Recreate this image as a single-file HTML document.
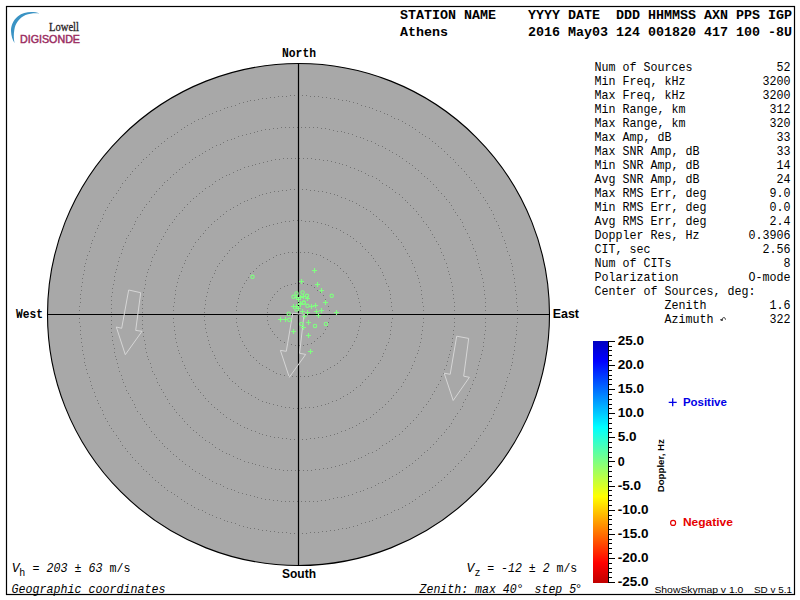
<!DOCTYPE html><html><head><meta charset="utf-8"><style>html,body{margin:0;padding:0;background:#fff;width:800px;height:600px;overflow:hidden}svg{display:block}text{white-space:pre}</style></head><body>
<svg width="800" height="600" viewBox="0 0 800 600">
<rect x="0" y="0" width="800" height="600" fill="#fff"/>
<rect x="6.5" y="6.5" width="788" height="588" fill="none" stroke="#000" stroke-width="1.2"/>
<defs><linearGradient id="jet" x1="0" y1="0" x2="0" y2="1"><stop offset="0" stop-color="#0000c0"/><stop offset="0.083" stop-color="#0000ff"/><stop offset="0.357" stop-color="#00ffff"/><stop offset="0.5" stop-color="#80ff80"/><stop offset="0.643" stop-color="#ffff00"/><stop offset="0.917" stop-color="#ff0000"/><stop offset="1" stop-color="#c00000"/></linearGradient></defs>
<circle cx="298.5" cy="314.5" r="251" fill="#a8a8a8" stroke="#000" stroke-width="1.1"/>
<path d="M329 314.5h1M329 318.5h1M328 322.5h1M327 326.5h1M325 329.5h1M323 333.5h1M320 336.5h1M317 338.5h1M314 341.5h1M311 343.5h1M307 344.5h1M303 345.5h1M299 345.5h1M295 345.5h1M291 344.5h1M287 343.5h1M284 342.5h1M280 340.5h1M277 337.5h1M274 334.5h1M272 331.5h1M270 328.5h1M268 324.5h1M267 320.5h1M267 316.5h1M267 312.5h1M267 308.5h1M268 304.5h1M270 300.5h1M272 297.5h1M274 294.5h1M277 291.5h1M280 288.5h1M284 286.5h1M287 285.5h1M291 284.5h1M295 283.5h1M299 283.5h1M303 283.5h1M307 284.5h1M311 285.5h1M314 287.5h1M317 290.5h1M320 292.5h1M323 295.5h1M325 299.5h1M327 302.5h1M328 306.5h1M329 310.5h1M361 314.5h1M360 318.5h1M360 322.5h1M359 326.5h1M358 330.5h1M357 334.5h1M356 337.5h1M354 341.5h1M352 345.5h1M350 348.5h1M348 351.5h1M346 355.5h1M343 357.5h1M340 360.5h1M337 363.5h1M334 365.5h1M330 367.5h1M327 369.5h1M323 371.5h1M320 373.5h1M316 374.5h1M312 375.5h1M308 376.5h1M304 376.5h1M300 376.5h1M296 376.5h1M292 376.5h1M288 376.5h1M284 375.5h1M280 374.5h1M276 373.5h1M273 371.5h1M269 369.5h1M266 367.5h1M262 365.5h1M259 363.5h1M256 360.5h1M253 357.5h1M250 355.5h1M248 351.5h1M246 348.5h1M244 345.5h1M242 341.5h1M240 337.5h1M239 334.5h1M238 330.5h1M237 326.5h1M236 322.5h1M236 318.5h1M236 314.5h1M236 310.5h1M236 306.5h1M237 302.5h1M238 298.5h1M239 294.5h1M240 291.5h1M242 287.5h1M244 283.5h1M246 280.5h1M248 277.5h1M250 273.5h1M253 271.5h1M256 268.5h1M259 265.5h1M262 263.5h1M266 261.5h1M269 259.5h1M273 257.5h1M276 255.5h1M280 254.5h1M284 253.5h1M288 252.5h1M292 252.5h1M296 252.5h1M300 252.5h1M304 252.5h1M308 252.5h1M312 253.5h1M316 254.5h1M320 255.5h1M323 257.5h1M327 259.5h1M330 261.5h1M334 263.5h1M337 265.5h1M340 268.5h1M343 271.5h1M346 273.5h1M348 277.5h1M350 280.5h1M352 283.5h1M354 287.5h1M356 291.5h1M357 294.5h1M358 298.5h1M359 302.5h1M360 306.5h1M360 310.5h1M392 314.5h1M392 318.5h1M391 322.5h1M391 326.5h1M390 330.5h1M390 334.5h1M389 338.5h1M388 342.5h1M386 345.5h1M385 349.5h1M383 353.5h1M382 356.5h1M380 360.5h1M378 363.5h1M375 367.5h1M373 370.5h1M371 373.5h1M368 376.5h1M365 379.5h1M362 382.5h1M360 385.5h1M356 387.5h1M353 390.5h1M350 392.5h1M347 394.5h1M343 396.5h1M340 398.5h1M336 400.5h1M332 401.5h1M328 403.5h1M325 404.5h1M321 405.5h1M317 406.5h1M313 407.5h1M309 407.5h1M305 407.5h1M301 408.5h1M297 408.5h1M293 408.5h1M289 407.5h1M285 407.5h1M281 406.5h1M277 405.5h1M273 404.5h1M269 403.5h1M266 402.5h1M262 401.5h1M258 399.5h1M255 397.5h1M251 395.5h1M248 393.5h1M244 391.5h1M241 389.5h1M238 386.5h1M235 383.5h1M232 381.5h1M229 378.5h1M227 375.5h1M224 372.5h1M222 368.5h1M219 365.5h1M217 362.5h1M215 358.5h1M214 355.5h1M212 351.5h1M210 347.5h1M209 344.5h1M208 340.5h1M207 336.5h1M206 332.5h1M205 328.5h1M205 324.5h1M204 320.5h1M204 316.5h1M204 312.5h1M204 308.5h1M205 304.5h1M205 300.5h1M206 296.5h1M207 292.5h1M208 288.5h1M209 284.5h1M210 281.5h1M212 277.5h1M214 273.5h1M215 270.5h1M217 266.5h1M219 263.5h1M222 260.5h1M224 256.5h1M227 253.5h1M229 250.5h1M232 247.5h1M235 245.5h1M238 242.5h1M241 239.5h1M244 237.5h1M248 235.5h1M251 233.5h1M255 231.5h1M258 229.5h1M262 227.5h1M266 226.5h1M269 225.5h1M273 224.5h1M277 223.5h1M281 222.5h1M285 221.5h1M289 221.5h1M293 220.5h1M297 220.5h1M301 220.5h1M305 221.5h1M309 221.5h1M313 221.5h1M317 222.5h1M321 223.5h1M325 224.5h1M328 225.5h1M332 227.5h1M336 228.5h1M340 230.5h1M343 232.5h1M347 234.5h1M350 236.5h1M353 238.5h1M356 241.5h1M360 243.5h1M362 246.5h1M365 249.5h1M368 252.5h1M371 255.5h1M373 258.5h1M375 261.5h1M378 265.5h1M380 268.5h1M382 272.5h1M383 275.5h1M385 279.5h1M386 283.5h1M388 286.5h1M389 290.5h1M390 294.5h1M390 298.5h1M391 302.5h1M391 306.5h1M392 310.5h1M423 314.5h1M423 318.5h1M423 322.5h1M422 326.5h1M422 330.5h1M421 334.5h1M421 338.5h1M420 342.5h1M419 346.5h1M418 350.5h1M417 353.5h1M415 357.5h1M414 361.5h1M412 365.5h1M411 368.5h1M409 372.5h1M407 375.5h1M405 379.5h1M403 382.5h1M401 386.5h1M398 389.5h1M396 392.5h1M393 395.5h1M391 398.5h1M388 401.5h1M385 404.5h1M382 407.5h1M379 409.5h1M376 412.5h1M373 414.5h1M370 417.5h1M366 419.5h1M363 421.5h1M359 423.5h1M356 425.5h1M352 427.5h1M349 428.5h1M345 430.5h1M341 431.5h1M337 433.5h1M334 434.5h1M330 435.5h1M326 436.5h1M322 437.5h1M318 437.5h1M314 438.5h1M310 438.5h1M306 439.5h1M302 439.5h1M298 439.5h1M294 439.5h1M290 439.5h1M286 438.5h1M282 438.5h1M278 437.5h1M274 437.5h1M270 436.5h1M266 435.5h1M262 434.5h1M259 433.5h1M255 431.5h1M251 430.5h1M247 428.5h1M244 427.5h1M240 425.5h1M237 423.5h1M233 421.5h1M230 419.5h1M226 417.5h1M223 414.5h1M220 412.5h1M217 409.5h1M214 407.5h1M211 404.5h1M208 401.5h1M205 398.5h1M203 395.5h1M200 392.5h1M198 389.5h1M195 386.5h1M193 382.5h1M191 379.5h1M189 375.5h1M187 372.5h1M185 368.5h1M184 365.5h1M182 361.5h1M181 357.5h1M179 353.5h1M178 350.5h1M177 346.5h1M176 342.5h1M175 338.5h1M175 334.5h1M174 330.5h1M174 326.5h1M173 322.5h1M173 318.5h1M173 314.5h1M173 310.5h1M173 306.5h1M174 302.5h1M174 298.5h1M175 294.5h1M175 290.5h1M176 286.5h1M177 282.5h1M178 278.5h1M179 275.5h1M181 271.5h1M182 267.5h1M184 263.5h1M185 260.5h1M187 256.5h1M189 253.5h1M191 249.5h1M193 246.5h1M195 242.5h1M198 239.5h1M200 236.5h1M203 233.5h1M205 230.5h1M208 227.5h1M211 224.5h1M214 221.5h1M217 219.5h1M220 216.5h1M223 214.5h1M226 211.5h1M230 209.5h1M233 207.5h1M237 205.5h1M240 203.5h1M244 201.5h1M247 200.5h1M251 198.5h1M255 197.5h1M259 195.5h1M262 194.5h1M266 193.5h1M270 192.5h1M274 191.5h1M278 191.5h1M282 190.5h1M286 190.5h1M290 189.5h1M294 189.5h1M298 189.5h1M302 189.5h1M306 189.5h1M310 190.5h1M314 190.5h1M318 191.5h1M322 191.5h1M326 192.5h1M330 193.5h1M334 194.5h1M337 195.5h1M341 197.5h1M345 198.5h1M349 200.5h1M352 201.5h1M356 203.5h1M359 205.5h1M363 207.5h1M366 209.5h1M370 211.5h1M373 214.5h1M376 216.5h1M379 219.5h1M382 221.5h1M385 224.5h1M388 227.5h1M391 230.5h1M393 233.5h1M396 236.5h1M398 239.5h1M401 242.5h1M403 246.5h1M405 249.5h1M407 253.5h1M409 256.5h1M411 260.5h1M412 263.5h1M414 267.5h1M415 271.5h1M417 275.5h1M418 278.5h1M419 282.5h1M420 286.5h1M421 290.5h1M421 294.5h1M422 298.5h1M422 302.5h1M423 306.5h1M423 310.5h1M454 314.5h1M454 318.5h1M454 322.5h1M454 326.5h1M453 330.5h1M453 334.5h1M452 338.5h1M452 342.5h1M451 346.5h1M450 350.5h1M449 354.5h1M448 357.5h1M447 361.5h1M446 365.5h1M444 369.5h1M443 373.5h1M441 376.5h1M440 380.5h1M438 384.5h1M436 387.5h1M434 391.5h1M432 394.5h1M430 398.5h1M428 401.5h1M426 404.5h1M423 407.5h1M421 411.5h1M418 414.5h1M416 417.5h1M413 420.5h1M410 423.5h1M407 426.5h1M405 428.5h1M402 431.5h1M399 434.5h1M395 436.5h1M392 439.5h1M389 441.5h1M386 443.5h1M382 445.5h1M379 448.5h1M376 450.5h1M372 452.5h1M368 453.5h1M365 455.5h1M361 457.5h1M358 458.5h1M354 460.5h1M350 461.5h1M346 463.5h1M342 464.5h1M339 465.5h1M335 466.5h1M331 467.5h1M327 468.5h1M323 468.5h1M319 469.5h1M315 469.5h1M311 470.5h1M307 470.5h1M303 470.5h1M299 470.5h1M295 470.5h1M291 470.5h1M287 470.5h1M283 470.5h1M279 469.5h1M275 469.5h1M271 468.5h1M267 467.5h1M263 466.5h1M259 465.5h1M255 464.5h1M252 463.5h1M248 462.5h1M244 461.5h1M240 459.5h1M237 458.5h1M233 456.5h1M229 454.5h1M226 453.5h1M222 451.5h1M219 449.5h1M215 447.5h1M212 444.5h1M209 442.5h1M205 440.5h1M202 437.5h1M199 435.5h1M196 432.5h1M193 430.5h1M190 427.5h1M187 424.5h1M184 421.5h1M182 418.5h1M179 415.5h1M176 412.5h1M174 409.5h1M172 406.5h1M169 403.5h1M167 399.5h1M165 396.5h1M163 392.5h1M161 389.5h1M159 385.5h1M157 382.5h1M156 378.5h1M154 374.5h1M152 371.5h1M151 367.5h1M150 363.5h1M148 359.5h1M147 356.5h1M146 352.5h1M145 348.5h1M145 344.5h1M144 340.5h1M143 336.5h1M143 332.5h1M142 328.5h1M142 324.5h1M142 320.5h1M142 316.5h1M142 312.5h1M142 308.5h1M142 304.5h1M142 300.5h1M143 296.5h1M143 292.5h1M144 288.5h1M145 284.5h1M145 280.5h1M146 276.5h1M147 272.5h1M148 269.5h1M150 265.5h1M151 261.5h1M152 257.5h1M154 254.5h1M156 250.5h1M157 246.5h1M159 243.5h1M161 239.5h1M163 236.5h1M165 232.5h1M167 229.5h1M169 225.5h1M172 222.5h1M174 219.5h1M176 216.5h1M179 213.5h1M182 210.5h1M184 207.5h1M187 204.5h1M190 201.5h1M193 198.5h1M196 196.5h1M199 193.5h1M202 191.5h1M205 188.5h1M209 186.5h1M212 184.5h1M215 181.5h1M219 179.5h1M222 177.5h1M226 175.5h1M229 174.5h1M233 172.5h1M237 170.5h1M240 169.5h1M244 167.5h1M248 166.5h1M252 165.5h1M255 164.5h1M259 163.5h1M263 162.5h1M267 161.5h1M271 160.5h1M275 159.5h1M279 159.5h1M283 158.5h1M287 158.5h1M291 158.5h1M295 158.5h1M299 158.5h1M303 158.5h1M307 158.5h1M311 158.5h1M315 159.5h1M319 159.5h1M323 160.5h1M327 160.5h1M331 161.5h1M335 162.5h1M339 163.5h1M342 164.5h1M346 165.5h1M350 167.5h1M354 168.5h1M358 170.5h1M361 171.5h1M365 173.5h1M368 175.5h1M372 176.5h1M376 178.5h1M379 180.5h1M382 183.5h1M386 185.5h1M389 187.5h1M392 189.5h1M395 192.5h1M399 194.5h1M402 197.5h1M405 200.5h1M407 202.5h1M410 205.5h1M413 208.5h1M416 211.5h1M418 214.5h1M421 217.5h1M423 221.5h1M426 224.5h1M428 227.5h1M430 230.5h1M432 234.5h1M434 237.5h1M436 241.5h1M438 244.5h1M440 248.5h1M441 252.5h1M443 255.5h1M444 259.5h1M446 263.5h1M447 267.5h1M448 271.5h1M449 274.5h1M450 278.5h1M451 282.5h1M452 286.5h1M452 290.5h1M453 294.5h1M453 298.5h1M454 302.5h1M454 306.5h1M454 310.5h1M486 314.5h1M485 318.5h1M485 322.5h1M485 326.5h1M485 330.5h1M484 334.5h1M484 338.5h1M483 342.5h1M483 346.5h1M482 350.5h1M481 354.5h1M480 358.5h1M479 361.5h1M478 365.5h1M477 369.5h1M476 373.5h1M475 377.5h1M473 380.5h1M472 384.5h1M470 388.5h1M469 391.5h1M467 395.5h1M465 399.5h1M463 402.5h1M462 406.5h1M460 409.5h1M457 413.5h1M455 416.5h1M453 419.5h1M451 423.5h1M449 426.5h1M446 429.5h1M444 432.5h1M441 435.5h1M438 438.5h1M436 441.5h1M433 444.5h1M430 447.5h1M427 450.5h1M424 452.5h1M421 455.5h1M418 458.5h1M415 460.5h1M412 463.5h1M409 465.5h1M406 467.5h1M402 470.5h1M399 472.5h1M396 474.5h1M392 476.5h1M389 478.5h1M385 480.5h1M382 482.5h1M378 483.5h1M375 485.5h1M371 487.5h1M367 488.5h1M363 490.5h1M360 491.5h1M356 492.5h1M352 494.5h1M348 495.5h1M344 496.5h1M341 497.5h1M337 497.5h1M333 498.5h1M329 499.5h1M325 500.5h1M321 500.5h1M317 501.5h1M313 501.5h1M309 501.5h1M305 501.5h1M301 501.5h1M297 501.5h1M293 501.5h1M289 501.5h1M285 501.5h1M281 501.5h1M277 500.5h1M273 500.5h1M269 499.5h1M265 499.5h1M261 498.5h1M257 497.5h1M254 496.5h1M250 495.5h1M246 494.5h1M242 493.5h1M238 492.5h1M234 490.5h1M231 489.5h1M227 488.5h1M223 486.5h1M220 484.5h1M216 483.5h1M212 481.5h1M209 479.5h1M205 477.5h1M202 475.5h1M199 473.5h1M195 471.5h1M192 469.5h1M189 466.5h1M185 464.5h1M182 461.5h1M179 459.5h1M176 456.5h1M173 454.5h1M170 451.5h1M167 448.5h1M164 446.5h1M162 443.5h1M159 440.5h1M156 437.5h1M154 434.5h1M151 431.5h1M149 427.5h1M146 424.5h1M144 421.5h1M142 418.5h1M140 414.5h1M137 411.5h1M135 407.5h1M134 404.5h1M132 400.5h1M130 397.5h1M128 393.5h1M126 390.5h1M125 386.5h1M123 382.5h1M122 379.5h1M121 375.5h1M119 371.5h1M118 367.5h1M117 363.5h1M116 359.5h1M115 356.5h1M114 352.5h1M114 348.5h1M113 344.5h1M112 340.5h1M112 336.5h1M111 332.5h1M111 328.5h1M111 324.5h1M111 320.5h1M111 316.5h1M111 312.5h1M111 308.5h1M111 304.5h1M111 300.5h1M111 296.5h1M112 292.5h1M112 288.5h1M113 284.5h1M114 280.5h1M114 276.5h1M115 272.5h1M116 269.5h1M117 265.5h1M118 261.5h1M119 257.5h1M121 253.5h1M122 249.5h1M123 246.5h1M125 242.5h1M126 238.5h1M128 235.5h1M130 231.5h1M132 228.5h1M134 224.5h1M135 221.5h1M137 217.5h1M140 214.5h1M142 210.5h1M144 207.5h1M146 204.5h1M149 201.5h1M151 197.5h1M154 194.5h1M156 191.5h1M159 188.5h1M162 185.5h1M164 182.5h1M167 180.5h1M170 177.5h1M173 174.5h1M176 172.5h1M179 169.5h1M182 167.5h1M185 164.5h1M189 162.5h1M192 159.5h1M195 157.5h1M199 155.5h1M202 153.5h1M205 151.5h1M209 149.5h1M212 147.5h1M216 145.5h1M220 144.5h1M223 142.5h1M227 140.5h1M231 139.5h1M234 138.5h1M238 136.5h1M242 135.5h1M246 134.5h1M250 133.5h1M254 132.5h1M257 131.5h1M261 130.5h1M265 129.5h1M269 129.5h1M273 128.5h1M277 128.5h1M281 127.5h1M285 127.5h1M289 127.5h1M293 127.5h1M297 127.5h1M301 127.5h1M305 127.5h1M309 127.5h1M313 127.5h1M317 127.5h1M321 128.5h1M325 128.5h1M329 129.5h1M333 130.5h1M337 131.5h1M341 131.5h1M344 132.5h1M348 133.5h1M352 134.5h1M356 136.5h1M360 137.5h1M363 138.5h1M367 140.5h1M371 141.5h1M375 143.5h1M378 145.5h1M382 146.5h1M385 148.5h1M389 150.5h1M392 152.5h1M396 154.5h1M399 156.5h1M402 158.5h1M406 161.5h1M409 163.5h1M412 165.5h1M415 168.5h1M418 170.5h1M421 173.5h1M424 176.5h1M427 178.5h1M430 181.5h1M433 184.5h1M436 187.5h1M438 190.5h1M441 193.5h1M444 196.5h1M446 199.5h1M449 202.5h1M451 205.5h1M453 209.5h1M455 212.5h1M457 215.5h1M460 219.5h1M462 222.5h1M463 226.5h1M465 229.5h1M467 233.5h1M469 237.5h1M470 240.5h1M472 244.5h1M473 248.5h1M475 251.5h1M476 255.5h1M477 259.5h1M478 263.5h1M479 267.5h1M480 270.5h1M481 274.5h1M482 278.5h1M483 282.5h1M483 286.5h1M484 290.5h1M484 294.5h1M485 298.5h1M485 302.5h1M485 306.5h1M485 310.5h1M517 314.5h1M517 318.5h1M517 322.5h1M516 326.5h1M516 330.5h1M516 334.5h1M515 338.5h1M515 342.5h1M514 346.5h1M514 350.5h1M513 354.5h1M512 358.5h1M512 362.5h1M511 365.5h1M510 369.5h1M509 373.5h1M507 377.5h1M506 381.5h1M505 385.5h1M504 388.5h1M502 392.5h1M501 396.5h1M499 400.5h1M498 403.5h1M496 407.5h1M494 410.5h1M493 414.5h1M491 418.5h1M489 421.5h1M487 425.5h1M485 428.5h1M483 431.5h1M480 435.5h1M478 438.5h1M476 441.5h1M474 445.5h1M471 448.5h1M469 451.5h1M466 454.5h1M464 457.5h1M461 460.5h1M458 463.5h1M455 466.5h1M453 469.5h1M450 471.5h1M447 474.5h1M444 477.5h1M441 480.5h1M438 482.5h1M435 485.5h1M432 487.5h1M429 490.5h1M425 492.5h1M422 494.5h1M419 496.5h1M415 499.5h1M412 501.5h1M409 503.5h1M405 505.5h1M402 507.5h1M398 509.5h1M394 510.5h1M391 512.5h1M387 514.5h1M384 515.5h1M380 517.5h1M376 518.5h1M372 520.5h1M369 521.5h1M365 522.5h1M361 523.5h1M357 525.5h1M353 526.5h1M349 527.5h1M346 528.5h1M342 528.5h1M338 529.5h1M334 530.5h1M330 530.5h1M326 531.5h1M322 531.5h1M318 532.5h1M314 532.5h1M310 532.5h1M306 533.5h1M302 533.5h1M298 533.5h1M294 533.5h1M290 533.5h1M286 532.5h1M282 532.5h1M278 532.5h1M274 531.5h1M270 531.5h1M266 530.5h1M262 530.5h1M258 529.5h1M254 528.5h1M250 528.5h1M247 527.5h1M243 526.5h1M239 525.5h1M235 523.5h1M231 522.5h1M227 521.5h1M224 520.5h1M220 518.5h1M216 517.5h1M212 515.5h1M209 514.5h1M205 512.5h1M202 510.5h1M198 509.5h1M194 507.5h1M191 505.5h1M187 503.5h1M184 501.5h1M181 499.5h1M177 496.5h1M174 494.5h1M171 492.5h1M167 490.5h1M164 487.5h1M161 485.5h1M158 482.5h1M155 480.5h1M152 477.5h1M149 474.5h1M146 471.5h1M143 469.5h1M141 466.5h1M138 463.5h1M135 460.5h1M132 457.5h1M130 454.5h1M127 451.5h1M125 448.5h1M122 445.5h1M120 441.5h1M118 438.5h1M116 435.5h1M113 431.5h1M111 428.5h1M109 425.5h1M107 421.5h1M105 418.5h1M103 414.5h1M102 410.5h1M100 407.5h1M98 403.5h1M97 400.5h1M95 396.5h1M94 392.5h1M92 388.5h1M91 385.5h1M90 381.5h1M89 377.5h1M87 373.5h1M86 369.5h1M85 365.5h1M84 362.5h1M84 358.5h1M83 354.5h1M82 350.5h1M82 346.5h1M81 342.5h1M81 338.5h1M80 334.5h1M80 330.5h1M80 326.5h1M79 322.5h1M79 318.5h1M79 314.5h1M79 310.5h1M79 306.5h1M80 302.5h1M80 298.5h1M80 294.5h1M81 290.5h1M81 286.5h1M82 282.5h1M82 278.5h1M83 274.5h1M84 270.5h1M84 266.5h1M85 263.5h1M86 259.5h1M87 255.5h1M89 251.5h1M90 247.5h1M91 243.5h1M92 240.5h1M94 236.5h1M95 232.5h1M97 228.5h1M98 225.5h1M100 221.5h1M102 218.5h1M103 214.5h1M105 210.5h1M107 207.5h1M109 203.5h1M111 200.5h1M113 197.5h1M116 193.5h1M118 190.5h1M120 187.5h1M122 183.5h1M125 180.5h1M127 177.5h1M130 174.5h1M132 171.5h1M135 168.5h1M138 165.5h1M141 162.5h1M143 159.5h1M146 157.5h1M149 154.5h1M152 151.5h1M155 148.5h1M158 146.5h1M161 143.5h1M164 141.5h1M167 138.5h1M171 136.5h1M174 134.5h1M177 132.5h1M181 129.5h1M184 127.5h1M187 125.5h1M191 123.5h1M194 121.5h1M198 119.5h1M202 118.5h1M205 116.5h1M209 114.5h1M212 113.5h1M216 111.5h1M220 110.5h1M224 108.5h1M227 107.5h1M231 106.5h1M235 105.5h1M239 103.5h1M243 102.5h1M247 101.5h1M250 100.5h1M254 100.5h1M258 99.5h1M262 98.5h1M266 98.5h1M270 97.5h1M274 97.5h1M278 96.5h1M282 96.5h1M286 96.5h1M290 95.5h1M294 95.5h1M298 95.5h1M302 95.5h1M306 95.5h1M310 96.5h1M314 96.5h1M318 96.5h1M322 97.5h1M326 97.5h1M330 98.5h1M334 98.5h1M338 99.5h1M342 100.5h1M346 100.5h1M349 101.5h1M353 102.5h1M357 103.5h1M361 105.5h1M365 106.5h1M369 107.5h1M372 108.5h1M376 110.5h1M380 111.5h1M384 113.5h1M387 114.5h1M391 116.5h1M394 118.5h1M398 119.5h1M402 121.5h1M405 123.5h1M409 125.5h1M412 127.5h1M415 129.5h1M419 132.5h1M422 134.5h1M425 136.5h1M429 138.5h1M432 141.5h1M435 143.5h1M438 146.5h1M441 148.5h1M444 151.5h1M447 154.5h1M450 157.5h1M453 159.5h1M455 162.5h1M458 165.5h1M461 168.5h1M464 171.5h1M466 174.5h1M469 177.5h1M471 180.5h1M474 183.5h1M476 187.5h1M478 190.5h1M480 193.5h1M483 197.5h1M485 200.5h1M487 203.5h1M489 207.5h1M491 210.5h1M493 214.5h1M494 218.5h1M496 221.5h1M498 225.5h1M499 228.5h1M501 232.5h1M502 236.5h1M504 240.5h1M505 243.5h1M506 247.5h1M507 251.5h1M509 255.5h1M510 259.5h1M511 263.5h1M512 266.5h1M512 270.5h1M513 274.5h1M514 278.5h1M514 282.5h1M515 286.5h1M515 290.5h1M516 294.5h1M516 298.5h1M516 302.5h1M517 306.5h1M517 310.5h1" stroke="#747474" stroke-width="1" fill="none"/>
<line x1="298.5" y1="63.5" x2="298.5" y2="565.5" stroke="#000" stroke-width="1.2"/>
<line x1="47.5" y1="314.5" x2="549.5" y2="314.5" stroke="#000" stroke-width="1.2"/>
<polygon points="128.7,290.0 140.7,292.7 135.7,330.4 142.0,331.3 125.3,354.7 116.3,327.0 121.7,328.3" fill="none" stroke="#d6d6d6" stroke-width="1"/>
<polygon points="292.7,313.3 304.0,314.4 299.6,353.3 305.7,354.4 289.3,377.3 280.4,350.4 286.3,351.3" fill="none" stroke="#d6d6d6" stroke-width="1"/>
<polygon points="456.7,336.2 468.7,338.4 463.7,376.2 469.4,377.3 453.2,400.5 444.2,373.2 450.2,374.3" fill="none" stroke="#d6d6d6" stroke-width="1"/>
<path d="M312.0 270.5h5M314.5 268.0v5M299.0 281.5h5M301.5 279.0v5M315.0 284.5h5M317.5 282.0v5M319.0 290.5h5M321.5 288.0v5M323.0 302.5h5M325.5 300.0v5M313.0 305.5h5M315.5 303.0v5M309.0 306.5h5M311.5 304.0v5M300.0 311.5h5M302.5 309.0v5M305.0 312.5h5M307.5 310.0v5M314.0 311.5h5M316.5 309.0v5M319.0 310.5h5M321.5 308.0v5M334.0 312.5h5M336.5 310.0v5M316.0 315.5h5M318.5 313.0v5M302.0 316.5h5M304.5 314.0v5M306.0 322.5h5M308.5 320.0v5M301.0 327.5h5M303.5 325.0v5M306.0 335.5h5M308.5 333.0v5M291.0 331.5h5M293.5 329.0v5M308.0 351.5h5M310.5 349.0v5M278.0 319.5h5M280.5 317.0v5M283.0 319.5h5M285.5 317.0v5M294.0 297.5h5M296.5 295.0v5M298.0 297.5h5M300.5 295.0v5M301.0 296.5h5M303.5 294.0v5M305.0 298.5h5M307.5 296.0v5M298.0 303.5h5M300.5 301.0v5M291.0 306.5h5M293.5 304.0v5M294.0 306.5h5M296.5 304.0v5M296.0 308.5h5M298.5 306.0v5M296.0 299.5h5M298.5 297.0v5M298.0 304.5h5M300.5 302.0v5" stroke="#80ff80" stroke-width="1.2" fill="none"/>
<circle cx="252.5" cy="276.8" r="1.7" fill="none" stroke="#80ff80" stroke-width="1.1"/>
<circle cx="331.7" cy="295.8" r="1.7" fill="none" stroke="#80ff80" stroke-width="1.1"/>
<circle cx="307.5" cy="305.8" r="1.7" fill="none" stroke="#80ff80" stroke-width="1.1"/>
<circle cx="303.8" cy="302.6" r="1.7" fill="none" stroke="#80ff80" stroke-width="1.1"/>
<circle cx="301.5" cy="324.0" r="1.7" fill="none" stroke="#80ff80" stroke-width="1.1"/>
<circle cx="315.0" cy="325.9" r="1.7" fill="none" stroke="#80ff80" stroke-width="1.1"/>
<circle cx="325.9" cy="324.0" r="1.7" fill="none" stroke="#80ff80" stroke-width="1.1"/>
<circle cx="288.7" cy="313.7" r="1.7" fill="none" stroke="#80ff80" stroke-width="1.1"/>
<circle cx="289.3" cy="319.8" r="1.7" fill="none" stroke="#80ff80" stroke-width="1.1"/>
<circle cx="296.5" cy="293.5" r="1.7" fill="none" stroke="#80ff80" stroke-width="1.1"/>
<circle cx="302.6" cy="292.5" r="1.7" fill="none" stroke="#80ff80" stroke-width="1.1"/>
<circle cx="293.5" cy="296.8" r="1.7" fill="none" stroke="#80ff80" stroke-width="1.1"/>
<circle cx="307.0" cy="295.8" r="1.7" fill="none" stroke="#80ff80" stroke-width="1.1"/>
<circle cx="303.8" cy="302.8" r="1.7" fill="none" stroke="#80ff80" stroke-width="1.1"/>
<circle cx="296.5" cy="309.6" r="1.7" fill="none" stroke="#80ff80" stroke-width="1.1"/>
<text x="282" y="56.7" style="font-family:'Liberation Mono',monospace;font-weight:bold;font-size:13.5px" textLength="34" lengthAdjust="spacingAndGlyphs">North</text>
<text x="282" y="577.7" style="font-family:'Liberation Sans',sans-serif;font-weight:bold;font-size:12.3px" textLength="34" lengthAdjust="spacingAndGlyphs">South</text>
<text x="16" y="317.8" style="font-family:'Liberation Mono',monospace;font-weight:bold;font-size:13.5px" textLength="27" lengthAdjust="spacingAndGlyphs">West</text>
<text x="552.8" y="317.8" style="font-family:'Liberation Sans',sans-serif;font-weight:bold;font-size:12.3px" textLength="26.2" lengthAdjust="spacingAndGlyphs">East</text>
<text x="400" y="18.75" style="font-family:'Liberation Mono',monospace;font-weight:bold;font-size:13.33px">STATION NAME    YYYY DATE  DDD HHMMSS AXN PPS IGP</text>
<text x="400" y="35.5" style="font-family:'Liberation Mono',monospace;font-weight:bold;font-size:13.33px">Athens          2016 May03 124 001820 417 100 -8U</text>
<text x="594.5" y="71" style="font-family:'Liberation Mono',monospace;font-size:12.7px" textLength="196" lengthAdjust="spacingAndGlyphs">Num of Sources            52</text>
<text x="594.5" y="85" style="font-family:'Liberation Mono',monospace;font-size:12.7px" textLength="196" lengthAdjust="spacingAndGlyphs">Min Freq, kHz           3200</text>
<text x="594.5" y="99" style="font-family:'Liberation Mono',monospace;font-size:12.7px" textLength="196" lengthAdjust="spacingAndGlyphs">Max Freq, kHz           3200</text>
<text x="594.5" y="113" style="font-family:'Liberation Mono',monospace;font-size:12.7px" textLength="196" lengthAdjust="spacingAndGlyphs">Min Range, km            312</text>
<text x="594.5" y="127" style="font-family:'Liberation Mono',monospace;font-size:12.7px" textLength="196" lengthAdjust="spacingAndGlyphs">Max Range, km            320</text>
<text x="594.5" y="141" style="font-family:'Liberation Mono',monospace;font-size:12.7px" textLength="196" lengthAdjust="spacingAndGlyphs">Max Amp, dB               33</text>
<text x="594.5" y="155" style="font-family:'Liberation Mono',monospace;font-size:12.7px" textLength="196" lengthAdjust="spacingAndGlyphs">Max SNR Amp, dB           33</text>
<text x="594.5" y="169" style="font-family:'Liberation Mono',monospace;font-size:12.7px" textLength="196" lengthAdjust="spacingAndGlyphs">Min SNR Amp, dB           14</text>
<text x="594.5" y="183" style="font-family:'Liberation Mono',monospace;font-size:12.7px" textLength="196" lengthAdjust="spacingAndGlyphs">Avg SNR Amp, dB           24</text>
<text x="594.5" y="197" style="font-family:'Liberation Mono',monospace;font-size:12.7px" textLength="196" lengthAdjust="spacingAndGlyphs">Max RMS Err, deg         9.0</text>
<text x="594.5" y="211" style="font-family:'Liberation Mono',monospace;font-size:12.7px" textLength="196" lengthAdjust="spacingAndGlyphs">Min RMS Err, deg         0.0</text>
<text x="594.5" y="225" style="font-family:'Liberation Mono',monospace;font-size:12.7px" textLength="196" lengthAdjust="spacingAndGlyphs">Avg RMS Err, deg         2.4</text>
<text x="594.5" y="239" style="font-family:'Liberation Mono',monospace;font-size:12.7px" textLength="196" lengthAdjust="spacingAndGlyphs">Doppler Res, Hz       0.3906</text>
<text x="594.5" y="253" style="font-family:'Liberation Mono',monospace;font-size:12.7px" textLength="196" lengthAdjust="spacingAndGlyphs">CIT, sec                2.56</text>
<text x="594.5" y="267" style="font-family:'Liberation Mono',monospace;font-size:12.7px" textLength="196" lengthAdjust="spacingAndGlyphs">Num of CITs                8</text>
<text x="594.5" y="281" style="font-family:'Liberation Mono',monospace;font-size:12.7px" textLength="196" lengthAdjust="spacingAndGlyphs">Polarization          O-mode</text>
<text x="594.5" y="295" style="font-family:'Liberation Mono',monospace;font-size:12.7px" textLength="196" lengthAdjust="spacingAndGlyphs">Center of Sources, deg:     </text>
<text x="594.5" y="309" style="font-family:'Liberation Mono',monospace;font-size:12.7px" textLength="196" lengthAdjust="spacingAndGlyphs">          Zenith         1.6</text>
<text x="594.5" y="323" style="font-family:'Liberation Mono',monospace;font-size:12.7px" textLength="196" lengthAdjust="spacingAndGlyphs">          Azimuth        322</text>
<path d="M720 319.6 l1.5 0.6 M721.6 320.2 q0.8 -2.8 2.4 -2.7 q1.4 0.1 1.5 2.2" stroke="#4a4a4a" stroke-width="1" fill="none"/><circle cx="722" cy="320" r="0.9" fill="#222"/>
<rect x="593" y="341" width="15" height="242" fill="url(#jet)"/>
<line x1="608.5" y1="341" x2="608.5" y2="583" stroke="#000" stroke-width="1"/>
<path d="M608 341.50h7M608 346.50h4M608 350.50h4M608 355.50h4M608 360.50h4M608 365.50h7M608 370.50h4M608 375.50h4M608 379.50h4M608 384.50h4M608 389.50h7M608 394.50h4M608 399.50h4M608 404.50h4M608 408.50h4M608 413.50h7M608 418.50h4M608 423.50h4M608 428.50h4M608 432.50h4M608 437.50h7M608 442.50h4M608 447.50h4M608 452.50h4M608 457.50h4M608 461.50h7M608 466.50h4M608 471.50h4M608 476.50h4M608 481.50h4M608 486.50h7M608 490.50h4M608 495.50h4M608 500.50h4M608 505.50h4M608 510.50h7M608 515.50h4M608 519.50h4M608 524.50h4M608 529.50h4M608 534.50h7M608 539.50h4M608 543.50h4M608 548.50h4M608 553.50h4M608 558.50h7M608 563.50h4M608 568.50h4M608 572.50h4M608 577.50h4M608 582.50h7" stroke="#000" stroke-width="1" fill="none"/>
<text x="617.7" y="344.9" style="font-family:'Liberation Sans',sans-serif;font-weight:bold;font-size:12.2px" textLength="26.3" lengthAdjust="spacingAndGlyphs">25.0</text>
<text x="617.7" y="369.0" style="font-family:'Liberation Sans',sans-serif;font-weight:bold;font-size:12.2px" textLength="26.3" lengthAdjust="spacingAndGlyphs">20.0</text>
<text x="617.7" y="393.2" style="font-family:'Liberation Sans',sans-serif;font-weight:bold;font-size:12.2px" textLength="26.3" lengthAdjust="spacingAndGlyphs">15.0</text>
<text x="617.7" y="417.3" style="font-family:'Liberation Sans',sans-serif;font-weight:bold;font-size:12.2px" textLength="26.3" lengthAdjust="spacingAndGlyphs">10.0</text>
<text x="617.7" y="441.4" style="font-family:'Liberation Sans',sans-serif;font-weight:bold;font-size:12.2px" textLength="18.8" lengthAdjust="spacingAndGlyphs">5.0</text>
<text x="617.7" y="465.5" style="font-family:'Liberation Sans',sans-serif;font-weight:bold;font-size:12.2px" textLength="7" lengthAdjust="spacingAndGlyphs">0</text>
<text x="617.7" y="489.7" style="font-family:'Liberation Sans',sans-serif;font-weight:bold;font-size:12.2px" textLength="23.5" lengthAdjust="spacingAndGlyphs">-5.0</text>
<text x="617.7" y="513.8" style="font-family:'Liberation Sans',sans-serif;font-weight:bold;font-size:12.2px" textLength="30.85" lengthAdjust="spacingAndGlyphs">-10.0</text>
<text x="617.7" y="537.9" style="font-family:'Liberation Sans',sans-serif;font-weight:bold;font-size:12.2px" textLength="30.85" lengthAdjust="spacingAndGlyphs">-15.0</text>
<text x="617.7" y="562.0" style="font-family:'Liberation Sans',sans-serif;font-weight:bold;font-size:12.2px" textLength="30.85" lengthAdjust="spacingAndGlyphs">-20.0</text>
<text x="617.7" y="586.1" style="font-family:'Liberation Sans',sans-serif;font-weight:bold;font-size:12.2px" textLength="30.85" lengthAdjust="spacingAndGlyphs">-25.0</text>
<path d="M668.7 402.3h8M672.7 398.3v8" stroke="#0000e6" stroke-width="1.3"/>
<text x="682.9" y="406" style="font-family:'Liberation Sans',sans-serif;font-weight:bold;font-size:10.4px;fill:#0000e6" textLength="44" lengthAdjust="spacingAndGlyphs">Positive</text>
<circle cx="673.1" cy="522.9" r="2.5" fill="none" stroke="#e60000" stroke-width="1.2"/>
<text x="682.9" y="526" style="font-family:'Liberation Sans',sans-serif;font-weight:bold;font-size:10.4px;fill:#e60000" textLength="50" lengthAdjust="spacingAndGlyphs">Negative</text>
<text transform="translate(664.4,492.3) rotate(-90)" x="0" y="0" style="font-family:'Liberation Sans',sans-serif;font-weight:bold;font-size:9.4px" textLength="53.2" lengthAdjust="spacingAndGlyphs">Doppler, Hz</text>
<text x="11.8" y="571.6" style="font-family:'Liberation Mono',monospace;font-size:13px;font-style:italic">V</text>
<text x="19.3" y="576" style="font-family:'Liberation Mono',monospace;font-size:11.6px" textLength="6" lengthAdjust="spacingAndGlyphs">h</text>
<text x="25.4" y="571.6" style="font-family:'Liberation Mono',monospace;font-size:12.7px" textLength="105" lengthAdjust="spacingAndGlyphs"> = <tspan font-style="italic">203</tspan> ± <tspan font-style="italic">63</tspan> m/s</text>
<text x="11.5" y="592.5" style="font-family:'Liberation Mono',monospace;font-size:12.7px;font-style:italic" textLength="154" lengthAdjust="spacingAndGlyphs">Geographic coordinates</text>
<text x="466.6" y="572" style="font-family:'Liberation Mono',monospace;font-size:13px;font-style:italic">V</text>
<text x="474.6" y="576" style="font-family:'Liberation Mono',monospace;font-size:11.6px" textLength="6" lengthAdjust="spacingAndGlyphs">z</text>
<text x="480.3" y="572" style="font-family:'Liberation Mono',monospace;font-size:12.7px" textLength="97" lengthAdjust="spacingAndGlyphs"> = <tspan font-style="italic">-12</tspan> ± <tspan font-style="italic">2</tspan> m/s</text>
<text x="419.5" y="592.5" style="font-family:'Liberation Mono',monospace;font-size:12.7px;font-style:italic" textLength="97.2" lengthAdjust="spacingAndGlyphs">Zenith: max 40</text>
<text x="516.2" y="592.5" style="font-family:'Liberation Mono',monospace;font-size:12.7px;font-style:italic">°</text>
<text x="520.7" y="592.5" style="font-family:'Liberation Mono',monospace;font-size:12.7px;font-style:italic" textLength="55.5" lengthAdjust="spacingAndGlyphs">  step 5</text>
<text x="574.7" y="592.5" style="font-family:'Liberation Mono',monospace;font-size:12.7px;font-style:italic">°</text>
<text x="654.4" y="592.5" style="font-family:'Liberation Sans',sans-serif;font-size:9.6px" textLength="89" lengthAdjust="spacingAndGlyphs">ShowSkymap v 1.0</text>
<text x="754" y="592.5" style="font-family:'Liberation Sans',sans-serif;font-size:9.6px" textLength="38" lengthAdjust="spacingAndGlyphs">SD v 5.1</text>
<path d="M39.5 13.4 C33 11.2 24 11.6 18 16.2 C12.5 20.5 10.8 27 11 31 C11.2 36 12.5 40 14.5 43 C13.6 39 13.6 34 14.3 30 C15.3 23 19.5 17.8 25.5 15 C30 13.2 35 13 39.5 13.4 Z" fill="#3a93c4"/>
<text x="49" y="30.75" style="font-family:'Liberation Serif',serif;font-size:11.8px;fill:#2a2226;stroke:#2a2226;stroke-width:0.3" textLength="30" lengthAdjust="spacingAndGlyphs">Lowell</text>
<text x="20" y="42.5" style="font-family:'Liberation Sans',sans-serif;font-size:10.5px;fill:#9b2d62;stroke:#9b2d62;stroke-width:0.45" textLength="60" lengthAdjust="spacingAndGlyphs">DIGISONDE</text>
</svg></body></html>
